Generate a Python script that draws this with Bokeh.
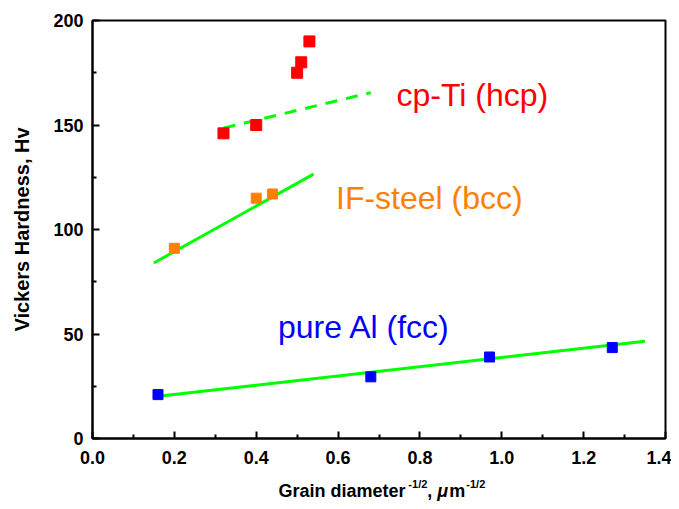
from bokeh.plotting import figure
from bokeh.layouts import column
from bokeh.models import FixedTicker, Range1d
from bokeh.core.properties import value
from bokeh.embed import file_html
from bokeh.resources import INLINE

# ---- data ----
ti_x = [0.32, 0.40, 0.50, 0.51, 0.53]
ti_y = [146, 150, 175, 180, 190]
steel_x = [0.20, 0.40, 0.44]
steel_y = [91, 115, 117]
al_x = [0.16, 0.68, 0.97, 1.27]
al_y = [21, 29.5, 39, 43.5]

ti_fit_x = [0.32, 0.68]
ti_fit_y = [148.5, 165.5]
steel_fit_x = [0.15, 0.54]
steel_fit_y = [84, 126.5]
al_fit_x = [0.15, 1.35]
al_fit_y = [20, 46.5]

x_ticks = [0.0, 0.2, 0.4, 0.6, 0.8, 1.0, 1.2, 1.4]
x_minor = [0.1, 0.3, 0.5, 0.7, 0.9, 1.1, 1.3]
y_ticks = [0, 50, 100, 150, 200]
y_minor = [25, 75, 125, 175]

labels = ["cp-Ti (hcp)", "IF-steel (bcc)", "pure Al (fcc)"]
label_x = [0.928, 0.823, 0.664]
label_y = [164.5, 115, 53.5]

RED = "#FF0000"
ORANGE = "#FF8000"
BLUE = "#0000FF"
GREEN = "#00FF00"
FONT = "Liberation Sans"

W = 671
p = figure(width=W, height=470, output_backend="svg", toolbar_location=None,
           x_range=Range1d(0, 1.4), y_range=Range1d(0, 200),
           min_border_left=92, min_border_right=6, min_border_top=20,
           min_border_bottom=32)
p.grid.visible = False
p.outline_line_color = "black"
p.outline_line_width = 2
p.background_fill_color = "white"
p.border_fill_color = "white"

p.xaxis.ticker = FixedTicker(ticks=x_ticks, minor_ticks=x_minor)
p.yaxis.ticker = FixedTicker(ticks=y_ticks, minor_ticks=y_minor)
p.xaxis.major_label_overrides = {t: f"{t:.1f}" for t in x_ticks}
p.yaxis.major_label_overrides = {t: f"{t}" for t in y_ticks}
for ax in (p.xaxis, p.yaxis):
    ax.axis_line_width = 2
    ax.major_tick_in = 7
    ax.major_tick_out = 0
    ax.minor_tick_in = 4
    ax.minor_tick_out = 0
    ax.major_tick_line_width = 2
    ax.minor_tick_line_width = 2
    ax.major_label_text_font = FONT
    ax.major_label_text_font_style = "bold"
    ax.major_label_text_font_size = "18px"
    ax.major_label_text_color = "black"
p.xaxis.major_label_standoff = 12
p.yaxis.major_label_standoff = 9

p.yaxis.axis_label = "Vickers Hardness, Hv"
p.yaxis.axis_label_text_font = FONT
p.yaxis.axis_label_text_font_style = "bold"
p.yaxis.axis_label_text_font_size = "20px"
p.yaxis.axis_label_text_color = "black"
p.yaxis.axis_label_standoff = 17

# fit lines
p.line(ti_fit_x, ti_fit_y, line_color=GREEN, line_width=3, line_dash="12 9")
p.line(steel_fit_x, steel_fit_y, line_color=GREEN, line_width=3)
p.line(al_fit_x, al_fit_y, line_color=GREEN, line_width=3)

# data points
p.scatter(ti_x, ti_y, marker="square", size=11, fill_color=RED, line_color=RED)
p.scatter(steel_x, steel_y, marker="square", size=10, fill_color=ORANGE, line_color=ORANGE)
p.scatter(al_x, al_y, marker="square", size=10, fill_color=BLUE, line_color=BLUE)

# series labels
p.text(x=label_x, y=label_y, text=labels, text_color=[RED, ORANGE, BLUE],
       text_font=value(FONT), text_font_size="32px", text_align="center",
       text_baseline="middle")

# x-axis title strip (with superscripts), sharing the x range
t = figure(width=W, height=31, output_backend="svg", toolbar_location=None,
           x_range=p.x_range, y_range=Range1d(0, 31),
           x_axis_location=None, y_axis_location=None,
           min_border_left=92, min_border_right=6, min_border_top=0,
           min_border_bottom=0)
t.grid.visible = False
t.outline_line_color = None
t.background_fill_color = "white"
t.border_fill_color = "white"

yb, ys = 11, 18
pieces = [
    ("Grain diameter", 0.4542, yb, "18px", "bold"),
    ("-1/2", 0.7717, ys, "11px", "bold"),
    (",", 0.8181, yb, "18px", "bold"),
    ("\u03bc", 0.8425, yb, "18px", "bold italic"),
    ("m", 0.8718, yb, "18px", "bold"),
    ("-1/2", 0.9133, ys, "11px", "bold"),
]
for txt, xx, yy, fs, st in pieces:
    t.text(x=[xx], y=[yy], text=[txt], text_font=value(FONT), text_font_size=fs,
           text_font_style=st, text_color="black", text_baseline="alphabetic",
           text_align="left")

layout = column(p, t, spacing=0)
open("out.html", "w").write(file_html(layout, INLINE))
